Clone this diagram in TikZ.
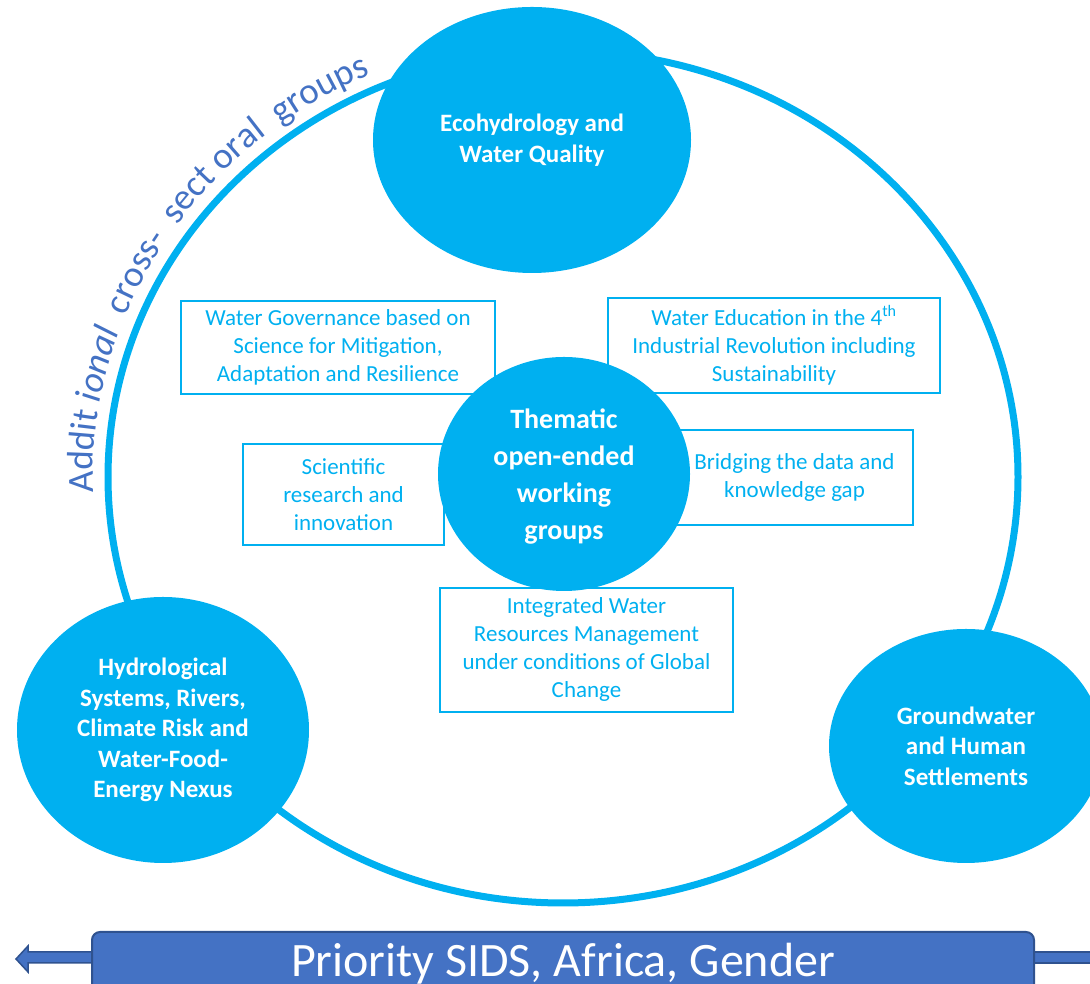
\documentclass[tikz,border=0pt]{standalone}
\usepackage{fontspec}
\setmainfont{Carlito}
\usetikzlibrary{decorations.text,shapes.geometric}
\definecolor{cyanw}{HTML}{00B0F0}
\definecolor{bluew}{HTML}{4472C4}
\definecolor{bluedark}{HTML}{2F528F}
\newcommand\boxfont{\fontsize{23}{28}\selectfont}
\newcommand\ellfont{\fontsize{25}{30.5}\selectfont\bfseries}
\newcommand\themfont{\fontsize{28}{37}\selectfont\bfseries}
\newcommand\arcfont{\fontsize{37}{40}\selectfont}
\newcommand\prifont{\fontsize{48}{50}\selectfont}
\begin{document}
\begin{tikzpicture}[x=1pt,y=1pt,
  wgbox/.style={draw=cyanw, line width=2pt, text=cyanw, align=center, font=\boxfont, inner sep=0pt},
  topic/.style={ellipse, fill=cyanw, text=white, align=center, inner sep=0pt, font=\ellfont},
  ringstyle/.style={ellipse, draw=cyanw, line width=7pt, inner sep=0pt},
  arrowpart/.style={fill=bluew, draw=bluedark, line width=1.5pt}]
\useasboundingbox (0,0) rectangle (1090,984);
% outer ring
\node[ringstyle, minimum width=910pt, minimum height=852pt] (ring) at (563,507) {};
% boxes
\node[wgbox, minimum width=314pt, minimum height=93pt] (gov) at (338,636.5)
  {Water Governance based on\\Science for Mitigation,\\Adaptation and Resilience};
\node[wgbox, minimum width=332pt, minimum height=95pt] (edu) at (774,638.5)
  {Water Education in the 4\textsuperscript{th}\\Industrial Revolution including\\Sustainability};
\node[wgbox, minimum width=201pt, minimum height=101pt] (sci) at (343.5,489.5)
  {Scientific\\research and\\innovation};
\node[wgbox, minimum width=237pt, minimum height=95pt] (bridge) at (794.5,506.5)
  {Bridging the data and\\knowledge gap};
\node[wgbox, minimum width=293pt, minimum height=124pt] (iwrm) at (586.5,334)
  {Integrated Water\\Resources Management\\under conditions of Global\\Change};
% topic ellipses
\node[topic, minimum width=318pt, minimum height=266pt] (eco) at (532,844)
  {Ecohydrology and\\Water Quality};
\node[topic, minimum width=292pt, minimum height=266pt] (hydro) at (163,254)
  {Hydrological\\Systems, Rivers,\\Climate Risk and\\Water-Food-\\Energy Nexus};
\node[topic, minimum width=274pt, minimum height=234pt] (ground) at (966,238)
  {Groundwater\\and Human\\Settlements};
\node[topic, font=\themfont, minimum width=252pt, minimum height=234pt] (them) at (564,510) {};
\node[text=white, font=\themfont, align=center, inner sep=0pt] (themtext) at (564,507)
  {Thematic\\open-ended\\working\\groups};
% arc text
\path[decorate, decoration={text along path, text color=bluew, text align=left,
  text={|\arcfont|Addit|\arcfont\itshape|{\ }ional|\arcfont|{\ }{\ }cross-{\ }{\ }sect oral{\ }{\ }groups}}]
  (ring.center) ++(182:470pt and 441pt) arc[start angle=182, end angle=100, x radius=470pt, y radius=441pt];
% bottom arrow and bar
\draw[arrowpart] (92,32) -- (28,32) -- (28,38) -- (16,25) -- (28,12) -- (28,21) -- (92,21);
\draw[arrowpart] (1034,21) rectangle (1100,32);
\node[fill=bluew, draw=bluedark, line width=2pt, rounded corners=8pt, minimum width=942pt, minimum height=66pt, inner sep=0pt] (bar) at (563,19) {};
\node[text=white, font=\prifont, anchor=base, inner sep=0pt] (prio) at (563,7) {Priority SIDS, Africa, Gender};
\end{tikzpicture}
\end{document}
